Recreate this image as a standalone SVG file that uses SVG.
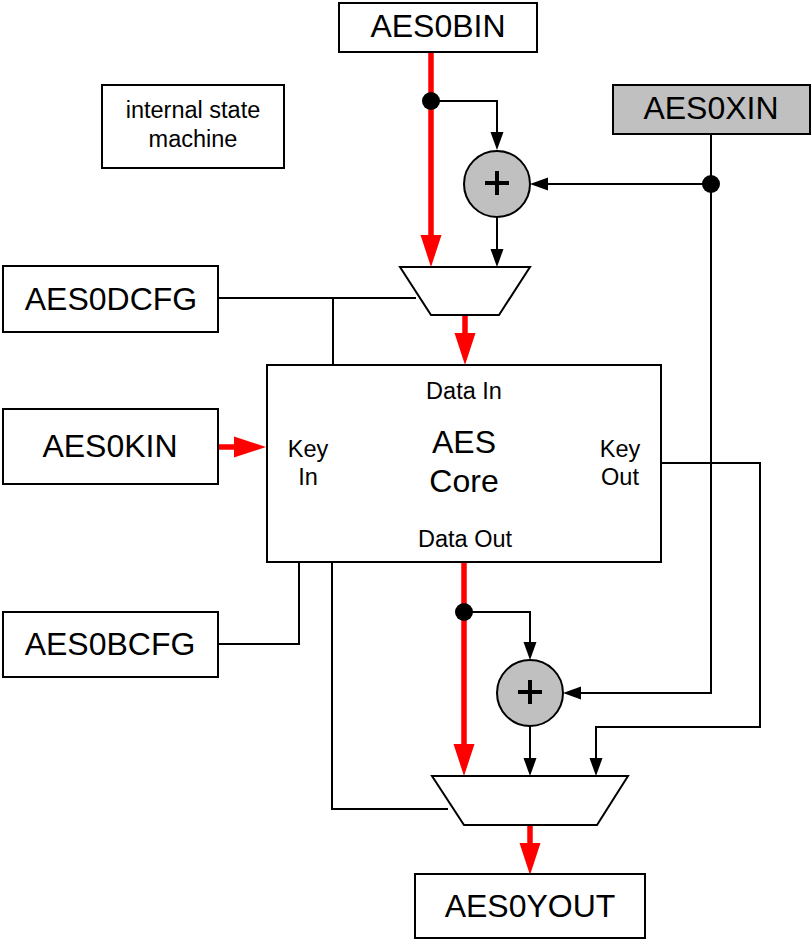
<svg xmlns="http://www.w3.org/2000/svg" width="811" height="940" viewBox="0 0 811 940">
<style>
.box{fill:#fff;stroke:#000;stroke-width:2}
.grey{fill:#c0c0c0;stroke:#000;stroke-width:2}
.lbl{font-family:"Liberation Sans",Arial,sans-serif;font-size:32px;text-anchor:middle;fill:#000}
.sm{font-family:"Liberation Sans",Arial,sans-serif;font-size:23.5px;text-anchor:middle;fill:#000}
.core{font-family:"Liberation Sans",Arial,sans-serif;font-size:32px;text-anchor:middle;fill:#000}
.w{fill:none;stroke:#000;stroke-width:2}
.r{fill:none;stroke:#ff0000;stroke-width:5.5}
.ba{marker-end:url(#ab)}
.ra{marker-end:url(#ar)}
.dot{fill:#000}
.plus{stroke:#000;stroke-width:4;fill:none}
</style>
<defs>
<marker id="ab" markerUnits="userSpaceOnUse" markerWidth="18" markerHeight="13" refX="0" refY="6.5" orient="auto" overflow="visible"><path d="M0,0 L18,6.5 L0,13 z" fill="#000"/></marker>
<marker id="ar" markerUnits="userSpaceOnUse" markerWidth="32" markerHeight="21" refX="0" refY="10.5" orient="auto" overflow="visible"><path d="M0,0 L32,10.5 L0,21 z" fill="#ff0000"/></marker>
</defs>
<rect width="811" height="940" fill="#fff"/>
<g id="connectors">
<path class="r ra" d="M431,52 V235"/>
<path class="w ba" d="M431,101 H497 V132"/>
<path class="w ba" d="M711,134 V693 H581"/>
<path class="w ba" d="M711,184 H548"/>
<path class="w ba" d="M497,217 V249"/>
<path class="r ra" d="M465,315 V333"/>
<path class="w" d="M218,298 H416"/>
<path class="w" d="M333,298 V365"/>
<path class="r ra" d="M218,447 H234"/>
<path class="w" d="M218,644 H299 V562"/>
<path class="w" d="M332,562 V809 H448"/>
<path class="r ra" d="M464,562 V744"/>
<path class="w ba" d="M464,612 H530 V642"/>
<path class="w ba" d="M530,726 V758"/>
<path class="w ba" d="M661,463 H760 V727 H596 V758"/>
<path class="r ra" d="M530,825 V843"/>
<circle class="dot" cx="431" cy="101" r="9"/>
<circle class="dot" cx="711" cy="184" r="9"/>
<circle class="dot" cx="464" cy="612" r="9"/>
</g>
<g id="aes0bin"><rect class="box" x="339" y="3" width="198" height="49"/><text class="lbl" x="438" y="37">AES0BIN</text></g>
<g id="aes0xin"><rect class="grey" x="613" y="85" width="197" height="49"/><text class="lbl" x="711" y="119">AES0XIN</text></g>
<g id="ism"><rect class="box" x="102" y="85" width="182" height="83"/><text class="sm" x="193" y="118">internal state</text><text class="sm" x="193" y="147">machine</text></g>
<g id="xor1"><circle class="grey" cx="497" cy="184" r="33"/><path class="plus" d="M485,183 H509 M497,171 V195"/></g>
<g id="mux1"><polygon class="box" points="400,267 530,267 499,315 431,315"/></g>
<g id="aes0dcfg"><rect class="box" x="3" y="266" width="215" height="66"/><text class="lbl" x="111" y="310">AES0DCFG</text></g>
<g id="aes0kin"><rect class="box" x="3" y="409" width="215" height="75"/><text class="lbl" x="110" y="457">AES0KIN</text></g>
<g id="aescore"><rect class="box" x="267" y="365" width="394" height="197"/>
<text class="sm" x="464" y="399">Data In</text>
<text class="core" x="464" y="453">AES</text>
<text class="core" x="464" y="492">Core</text>
<text class="sm" x="308" y="457">Key</text>
<text class="sm" x="308" y="485">In</text>
<text class="sm" x="620" y="457">Key</text>
<text class="sm" x="620" y="485">Out</text>
<text class="sm" x="465" y="547">Data Out</text></g>
<g id="aes0bcfg"><rect class="box" x="3" y="612" width="215" height="65"/><text class="lbl" x="110" y="655">AES0BCFG</text></g>
<g id="xor2"><circle class="grey" cx="530" cy="693" r="33"/><path class="plus" d="M518,692 H542 M530,680 V704"/></g>
<g id="mux2"><polygon class="box" points="432,776 628,776 597,825 464,825"/></g>
<g id="aes0yout"><rect class="box" x="415" y="874" width="230" height="64"/><text class="lbl" x="530" y="917">AES0YOUT</text></g>
</svg>
